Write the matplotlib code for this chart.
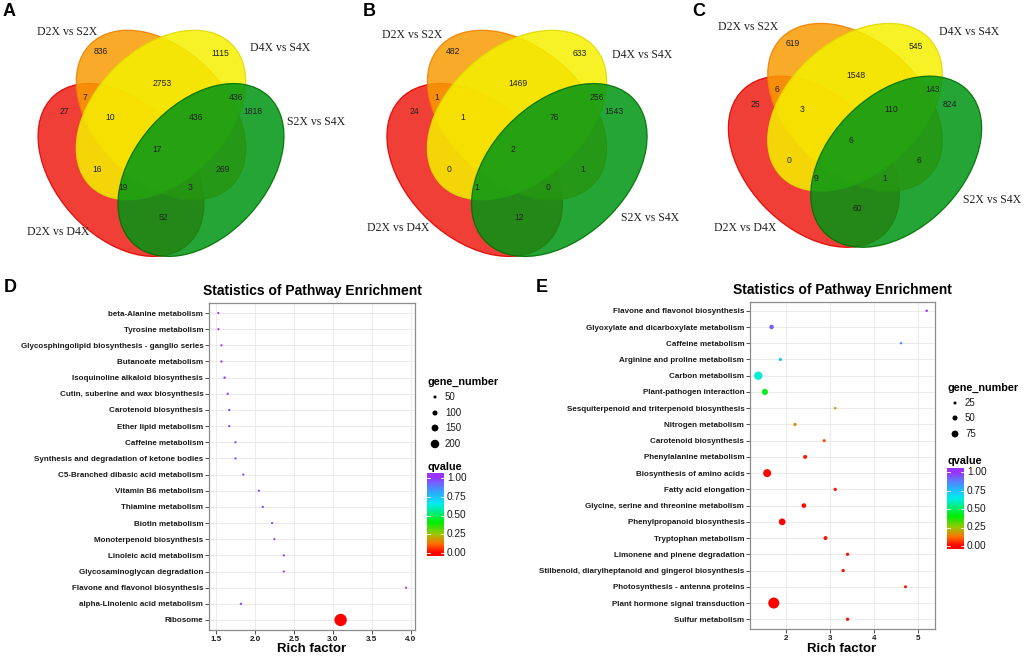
import numpy as np
import matplotlib
matplotlib.use("Agg")
import matplotlib.pyplot as plt
from matplotlib.patches import Ellipse
from matplotlib.colors import LinearSegmentedColormap
from matplotlib.transforms import Affine2D

W, H, DPI = 1024, 656, 100

# ---------------- Venn data (A, B, C) ----------------
# sets: red, orange, yellow, green
set_names = ["D2X vs D4X", "D2X vs S2X", "D4X vs S4X", "S2X vs S4X"]
regions = ["R", "O", "Y", "G", "RO", "RY", "RG", "OY", "OG", "YG",
           "ROY", "ROG", "RYG", "OYG", "ROYG"]
venn_a = [27, 836, 1115, 1818, 7, 16, 52, 2753, 269, 436, 10, 3, 19, 436, 17]
venn_b = [24, 482, 633, 1543, 1, 0, 12, 1469, 1, 256, 1, 0, 1, 76, 2]
venn_c = [25, 619, 545, 824, 6, 0, 60, 1548, 6, 143, 3, 1, 9, 110, 6]

# ---------------- KEGG enrichment D ----------------
path_d = ["beta-Alanine metabolism", "Tyrosine metabolism",
          "Glycosphingolipid biosynthesis - ganglio series", "Butanoate metabolism",
          "Isoquinoline alkaloid biosynthesis", "Cutin, suberine and wax biosynthesis",
          "Carotenoid biosynthesis", "Ether lipid metabolism", "Caffeine metabolism",
          "Synthesis and degradation of ketone bodies", "C5-Branched dibasic acid metabolism",
          "Vitamin B6 metabolism", "Thiamine metabolism", "Biotin metabolism",
          "Monoterpenoid biosynthesis", "Linoleic acid metabolism",
          "Glycosaminoglycan degradation", "Flavone and flavonol biosynthesis",
          "alpha-Linolenic acid metabolism", "Ribosome"]
rich_d = [1.53, 1.53, 1.57, 1.57, 1.61, 1.65, 1.67, 1.67, 1.75, 1.75,
          1.85, 2.05, 2.10, 2.22, 2.25, 2.37, 2.37, 3.94, 1.82, 3.10]
genes_d = [34, 34, 33, 34, 38, 36, 36, 35, 33, 33,
           33, 34, 34, 33, 33, 34, 33, 32, 35, 330]
q_d = [0.98, 0.98, 0.99, 0.99, 0.97, 0.97, 0.97, 0.98, 0.99, 0.99,
       0.99, 0.98, 0.99, 0.98, 0.99, 0.98, 0.99, 1.00, 0.97, 0.0]

# ---------------- KEGG enrichment E ----------------
path_e = ["Flavone and flavonol biosynthesis", "Glyoxylate and dicarboxylate metabolism",
          "Caffeine metabolism", "Arginine and proline metabolism", "Carbon metabolism",
          "Plant-pathogen interaction", "Sesquiterpenoid and triterpenoid biosynthesis",
          "Nitrogen metabolism", "Carotenoid biosynthesis", "Phenylalanine metabolism",
          "Biosynthesis of amino acids", "Fatty acid elongation",
          "Glycine, serine and threonine metabolism", "Phenylpropanoid biosynthesis",
          "Tryptophan metabolism", "Limonene and pinene degradation",
          "Stilbenoid, diarylheptanoid and gingerol biosynthesis",
          "Photosynthesis - antenna proteins", "Plant hormone signal transduction",
          "Sulfur metabolism"]
rich_e = [5.19, 1.68, 4.61, 1.88, 1.38, 1.53, 3.12, 2.21, 2.87, 2.44,
          1.58, 3.12, 2.41, 1.92, 2.90, 3.40, 3.30, 4.71, 1.73, 3.40]
genes_e = [19, 43, 19, 28, 97, 63, 21, 28, 25, 37,
           93, 28, 45, 73, 37, 28, 28, 25, 142, 28]
q_e = [1.00, 0.93, 0.85, 0.74, 0.62, 0.42, 0.20, 0.17, 0.07, 0.03,
       0.01, 0.02, 0.01, 0.0, 0.02, 0.01, 0.01, 0.02, 0.0, 0.01]

size_breaks_d = [50, 100, 150, 200]
size_breaks_e = [25, 50, 75]
q_breaks = [0.0, 0.25, 0.5, 0.75, 1.0]

# ---------------- helpers ----------------
cmap = LinearSegmentedColormap.from_list("qv", [
    (0.0, "#FF0000"), (0.12, "#FF7000"), (0.25, "#99C800"), (0.4, "#00EE00"),
    (0.55, "#00EE90"), (0.65, "#00EEEE"), (0.8, "#30A8FF"), (0.9, "#6672FF"),
    (1.0, "#9933FF")])


def dot_pts(v, k):
    d_px = k * np.asarray(v, float) ** 0.75
    return (d_px * 72.0 / DPI) ** 2


def px_axes(l, t, r, b):
    return fig.add_axes([l / W, 1 - b / H, (r - l) / W, (b - t) / H])


fig = plt.figure(figsize=(W / DPI, H / DPI), dpi=DPI)
ax0 = fig.add_axes([0, 0, 1, 1])
ax0.set_xlim(0, W)
ax0.set_ylim(H, 0)
ax0.axis("off")

# ---------------- Venn panels ----------------
ell_layout = [(-40, 28, 48), (0, -27, 45), (0, -27, -45), (40, 28, -48)]
ell_face = ["#EE2A20", "#F99B02", "#F5F000", "#009614"]
ell_edge = ["#E00000", "#F08000", "#E0DA00", "#007000"]
ell_alpha = [0.9, 0.85, 0.85, 0.85]
region_xy = {"R": (-97, -30), "O": (-60, -91), "Y": (59, -88), "G": (92, -30),
             "RO": (-76, -45), "RY": (-64, 27), "RG": (2, 75), "OY": (1, -59),
             "OG": (62, 27), "YG": (75, -45), "ROY": (-51, -25), "ROG": (29, 45),
             "RYG": (-38, 45), "OYG": (35, -25), "ROYG": (-4, 7)}

venn_panels = [
    ("A", venn_a, (161, 142), (1.0, 1.0), (9, 12),
     [(-103, 90), (-94, -110), (119, -94), (155, -20)]),
    ("B", venn_b, (517, 142), (1.058, 1.0), (369, 12),
     [(-119, 86), (-105, -107), (125, -87), (133, 76)]),
    ("C", venn_c, (855, 134), (1.03, 0.99), (699, 11),
     [(-110, 94), (-107, -107), (114, -102), (137, 66)]),
]

for letter, counts, (cx, cy), (sx, sy), lpos, name_off in venn_panels:
    tr = Affine2D().scale(sx, sy).translate(cx, cy) + ax0.transData
    for (dx, dy, ang), fc, ec, al in zip(ell_layout, ell_face, ell_edge, ell_alpha):
        e = Ellipse((dx, dy), 200, 132, angle=ang, facecolor=fc, edgecolor="none",
                    alpha=al, transform=tr)
        ax0.add_patch(e)
        e2 = Ellipse((dx, dy), 200, 132, angle=ang, facecolor="none", edgecolor=ec,
                     lw=0.9, alpha=0.9, transform=tr)
        ax0.add_patch(e2)
    for reg, n in zip(regions, counts):
        x, y = region_xy[reg]
        ax0.text(x, y, str(n), transform=tr, ha="center", va="center",
                 fontsize=6.2, color="#222222", family="Liberation Sans", zorder=5)
    for name, (ox, oy) in zip(set_names, name_off):
        ax0.text(cx + ox, cy + oy, name, ha="center", va="center", fontsize=8.5,
                 family="Liberation Serif", color="#222222", zorder=5)
    ax0.text(lpos[0], lpos[1], letter, ha="center", va="center", fontsize=13,
             fontweight="bold", family="Liberation Sans")


# ---------------- enrichment panels ----------------
def enrich_panel(box, paths, rich, genes, q, k, xticks, xlabels, xlim, ylim):
    ax = px_axes(*box)
    y = np.arange(len(paths))
    ax.scatter(rich, y, s=dot_pts(genes, k), c=q, cmap=cmap, vmin=0, vmax=1,
               linewidths=0, zorder=3)
    ax.set_xlim(*xlim)
    ax.set_ylim(*ylim)
    ax.set_yticks(y)
    ax.set_yticklabels(paths, fontsize=5.75, fontweight="bold", family="Liberation Sans")
    ax.set_xticks(xticks)
    ax.set_xticklabels(xlabels, fontsize=5.8, fontweight="bold", family="Liberation Sans")
    ax.grid(True, color="#EBEBEB", lw=0.7)
    ax.set_axisbelow(True)
    for sp in ax.spines.values():
        sp.set_color("#8C8C8C")
        sp.set_linewidth(0.9)
    ax.tick_params(length=2.6, width=0.6, color="#333333", pad=1.5,
                   labelcolor="#1A1A1A")
    return ax


enrich_panel((209, 303, 415, 630), path_d, rich_d, genes_d, q_d, 0.16,
             [1.5, 2.0, 2.5, 3.0, 3.5, 4.0], ["1.5", "2.0", "2.5", "3.0", "3.5", "4.0"],
             (1.41, 4.055), (19.62, -0.62))
enrich_panel((750, 302, 935, 629), path_e, rich_e, genes_e, q_e, 0.268,
             [2, 3, 4, 5], ["2", "3", "4", "5"], (1.192, 5.378), (19.6, -0.54))

for letter, lx, ly in [("D", 10, 287), ("E", 542, 287)]:
    ax0.text(lx, ly, letter, ha="center", va="center", fontsize=13,
             fontweight="bold", family="Liberation Sans")

for tx, ty in [(312, 291), (842, 290)]:
    ax0.text(tx, ty, "Statistics of Pathway Enrichment", ha="center", va="center",
             fontsize=10, fontweight="bold", family="Liberation Sans")
for tx in [312, 842]:
    ax0.text(tx, 649, "Rich factor", ha="center", va="center", fontsize=9.5,
             fontweight="bold", family="Liberation Sans")


# ---------------- legends ----------------
def size_legend(x0, ytitle, ys, breaks, k):
    ax0.text(x0, ytitle, "gene_number", ha="left", va="center", fontsize=7.8,
             fontweight="bold", family="Liberation Sans")
    ax0.scatter([x0 + 8] * len(breaks), ys, s=dot_pts(breaks, k), color="black",
                linewidths=0)
    for b, yy in zip(breaks, ys):
        ax0.text(x0 + 18, yy, str(b), ha="left", va="center", fontsize=7,
                 family="Liberation Sans", color="#1A1A1A")


def q_legend(l, r, t, b, y0, y1, ytitle):
    ax0.text(l, ytitle, "qvalue", ha="left", va="center", fontsize=7.8,
             fontweight="bold", family="Liberation Sans")
    cax = px_axes(l, t, r, b)
    qtop = (t - y0) / (y1 - y0)
    qbot = (b - y0) / (y1 - y0)
    grad = np.clip(np.linspace(qbot, qtop, 256), 0, 1)[:, None]
    cax.imshow(grad, cmap=cmap, vmin=0, vmax=1, aspect="auto", origin="lower",
               extent=[0, 1, qbot, qtop])
    cax.set_xlim(0, 1)
    cax.set_ylim(qbot, qtop)
    cax.axis("off")
    for v in q_breaks:
        cax.plot([0, 0.2], [v, v], color="white", lw=0.6)
        cax.plot([0.8, 1], [v, v], color="white", lw=0.6)
        ax0.text(r + 3, y0 + v * (y1 - y0), f"{v:.2f}", ha="left", va="center",
                 fontsize=7.3, family="Liberation Sans", color="#1A1A1A")


size_legend(427, 382, [397, 413, 428, 444], size_breaks_d, 0.16)
q_legend(427, 444, 473, 556, 553, 478, 467)
size_legend(947, 388, [403, 418, 434], size_breaks_e, 0.268)
q_legend(947, 964, 468, 549, 546, 472, 461)

fig.savefig("out.png", dpi=DPI)
